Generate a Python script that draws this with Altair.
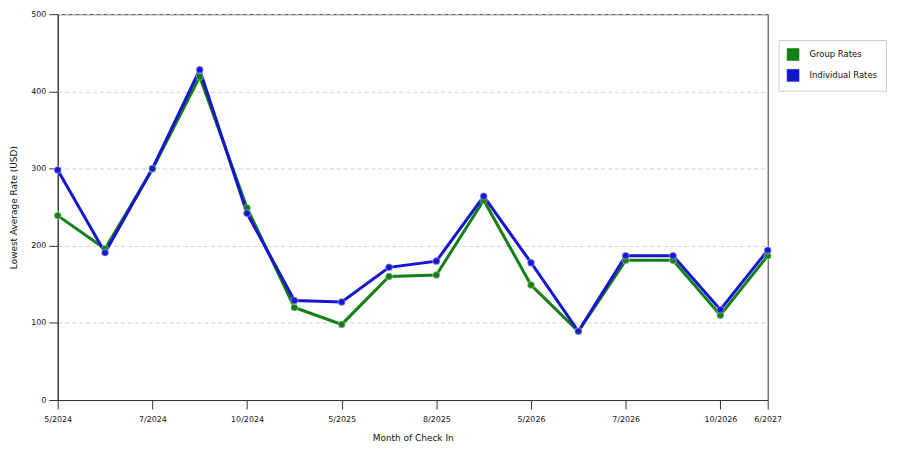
import altair as alt
import pandas as pd

# months of check in (only some are labelled on the axis)
months = ["5/2024", "6/2024", "7/2024", "8/2024", "10/2024", "11/2024",
          "5/2025", "6/2025", "8/2025", "9/2025", "5/2026", "6/2026",
          "7/2026", "8/2026", "10/2026", "6/2027"]
shown_labels = ["5/2024", "7/2024", "10/2024", "5/2025", "8/2025",
                "5/2026", "7/2026", "10/2026", "6/2027"]

group_rates = [239, 196, 299, 419, 249, 120, 98, 160, 162, 259, 149, 89, 181, 181, 110, 187]
individual_rates = [298, 191, 300, 428, 242, 129, 127, 172, 180, 264, 178, 89, 187, 187, 117, 194]

series = ["Group Rates", "Individual Rates"]
line_colors = ["#138013", "#1414d2"]

df = pd.concat([
    pd.DataFrame({"month": months, "rate": group_rates, "series": series[0], "order": range(16)}),
    pd.DataFrame({"month": months, "rate": individual_rates, "series": series[1], "order": range(16)}),
])

font = "DejaVu Sans"

x_enc = alt.X("month:O", sort=months, scale=alt.Scale(padding=0),
              axis=alt.Axis(values=shown_labels, labelAngle=0, labelOverlap=False,
                            labelPadding=7, title="Month of Check In", titlePadding=10))
y_enc = alt.Y("rate:Q", scale=alt.Scale(domain=[0, 500], nice=False),
              axis=alt.Axis(values=[0, 100, 200, 300, 400, 500],
                            title="Lowest Average Rate (USD)", titlePadding=12,
                            grid=True, gridDash=[4, 3], gridColor="#d0d0d0"))

legend = alt.Legend(title=None, orient="none", legendX=725, legendY=26,
                    symbolType="square", symbolSize=144,
                    symbolOpacity=1, symbolStrokeColor="#1a1a1a",
                    symbolStrokeWidth=0.6, rowPadding=6, labelOffset=10,
                    padding=8, strokeColor="#cccccc",
                    fillColor="white", labelFontSize=8.5,
                    labelFont=font, labelColor="#111")
color_enc = alt.Color("series:N", scale=alt.Scale(domain=series, range=line_colors),
                      legend=legend)

points = alt.Chart(df).mark_circle(size=50, opacity=0.85, stroke="white",
                                   strokeOpacity=0.35, strokeWidth=1.5).encode(
    x=x_enc, y=y_enc, color=color_enc,
)

lines = alt.Chart(df).mark_line(strokeWidth=3).encode(
    x=x_enc, y=y_enc, color=color_enc,
    detail="series:N",
    order="order:Q",
)

chart = alt.layer(points, lines, points).properties(
    width=714, height=388,
    autosize=alt.AutoSizeParams(type="none"),
    padding={"left": 50, "top": 5, "right": 125, "bottom": 48},
).configure_view(
    stroke="#333333", strokeWidth=1
).configure_axis(
    labelFont=font, titleFont=font, labelFontSize=8, titleFontSize=9,
    titleFontWeight="normal", labelColor="#111", titleColor="#111",
    domainColor="#333333", tickColor="#333333", tickSize=9, labelPadding=3,
)

chart.save("out.html", embed_options={"renderer": "svg", "actions": False})
